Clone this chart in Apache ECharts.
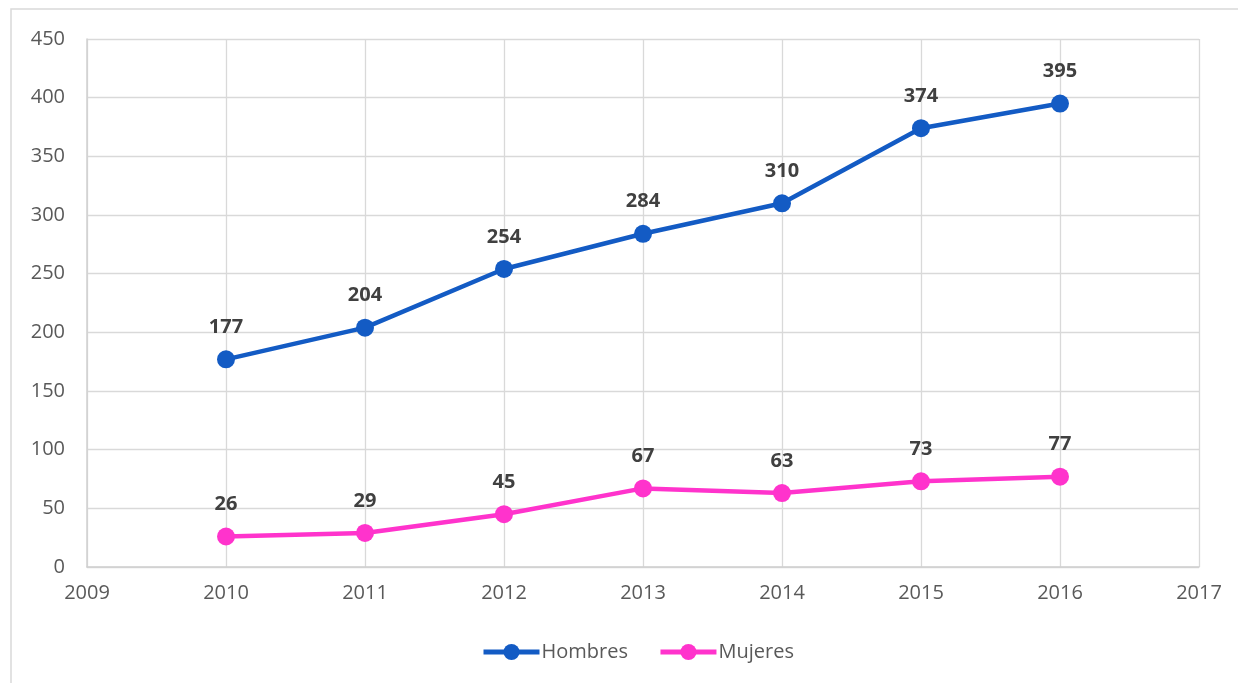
<!DOCTYPE html>
<html><head><meta charset="utf-8">
<script src="https://cdn.jsdelivr.net/npm/echarts@6/dist/echarts.min.js"></script>
<style>html,body{margin:0;padding:0;background:#fff}#c{width:1238px;height:683px}</style>
</head><body><div id="c"></div>
<script>
const years = [2010, 2011, 2012, 2013, 2014, 2015, 2016];
const hombres = [177, 204, 254, 284, 310, 374, 395];
const mujeres = [26, 29, 45, 67, 63, 73, 77];
const seriesNames = ['Hombres', 'Mujeres'];

const chart = echarts.init(document.getElementById('c'));
const font = '"Open Sans", sans-serif';
function mk(name, vals, color) {
  return {
    name: name, type: 'line',
    data: years.map((y, i) => [y, vals[i]]),
    symbol: 'circle', symbolSize: 18,
    lineStyle: { width: 4.5, color: color },
    itemStyle: { color: color },
    label: { show: true, position: 'top', distance: 13, fontFamily: font, fontSize: 20, fontWeight: 'bold', color: '#404040' },
    z: 3
  };
}
chart.setOption({
  animation: false,
  graphic: [{ type: 'rect', shape: { x: 11, y: 9, width: 1240, height: 700 }, style: { fill: 'none', stroke: '#d9d9d9', lineWidth: 1.5 } }],
  grid: { left: 87, right: 39, top: 39, bottom: 116 },
  xAxis: {
    type: 'value', min: 2009, max: 2017, interval: 1,
    axisLine: { show: true, lineStyle: { color: '#d0d0d0', width: 1.5 } },
    axisTick: { show: false },
    splitLine: { show: true, lineStyle: { color: '#d9d9d9', width: 1.3 } },
    axisLabel: { fontFamily: font, fontSize: 20, color: '#595959', margin: 16, formatter: v => String(v) }
  },
  yAxis: {
    type: 'value', min: 0, max: 450, interval: 50,
    axisLine: { show: true, lineStyle: { color: '#d0d0d0', width: 1.5 } },
    axisTick: { show: false },
    splitLine: { show: true, lineStyle: { color: '#d9d9d9', width: 1.3 } },
    axisLabel: { fontFamily: font, fontSize: 20, color: '#595959', margin: 22 }
  },
  legend: {
    bottom: 16, left: 476, itemWidth: 56, itemHeight: 20, itemGap: 30,
    lineStyle: { width: 5 },
    textStyle: { fontFamily: font, fontSize: 20, color: '#595959', padding: [0, 0, 0, -3] },
    data: seriesNames
  },
  series: [mk(seriesNames[0], hombres, '#135BC4'), mk(seriesNames[1], mujeres, '#FF33CC')]
});
</script></body></html>
